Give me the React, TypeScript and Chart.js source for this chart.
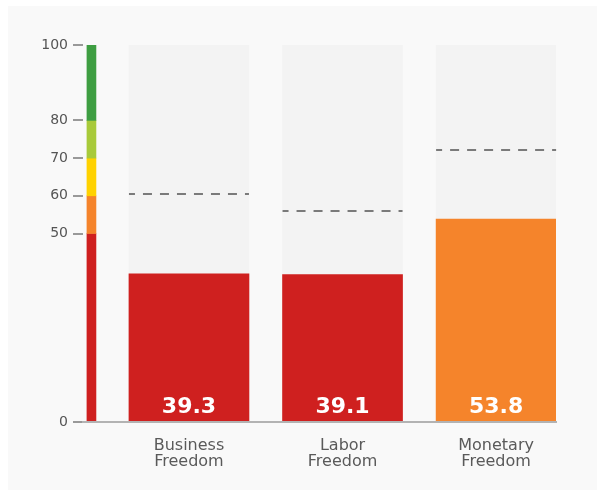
import React, { useEffect, useRef } from "react";
import { Chart, registerables } from "chart.js";

Chart.register(...registerables);

const CATEGORIES = ["Business Freedom", "Labor Freedom", "Monetary Freedom"];
const SCORES = [39.3, 39.1, 53.8];
const AVERAGES = [60.5, 55.9, 72.2];
const SCORE_COLORS = ["#cf201f", "#cf201f", "#f5842b"];
const SCORE_MAX = 100;
const BAND_LOWS = [0, 50, 60, 70, 80];
const BAND_HIGHS = [50, 60, 70, 80, 100];
const BAND_COLORS = ["#cf201f", "#f5842b", "#ffd200", "#a8ca3a", "#3e9e42"];
const Y_TICKS = [0, 50, 60, 70, 80, 100];

const X_MIN = 0.31;
const X_MAX = 3.39;
const BAND_X = 0.365;

const overlayPlugin = {
  id: "overlay",
  afterDatasetsDraw(chart: any) {
    const ctx = chart.ctx;
    const yScale = chart.scales.y;
    const meta = chart.getDatasetMeta(0);
    const y0 = yScale.getPixelForValue(0);
    ctx.save();
    // average dashed lines
    ctx.setLineDash([9, 8]);
    ctx.lineDashOffset = 3;
    ctx.strokeStyle = "#7a7a7a";
    ctx.lineWidth = 2;
    meta.data.forEach((bar: any, i: number) => {
      const y = Math.round(yScale.getPixelForValue(AVERAGES[i]));
      ctx.beginPath();
      ctx.moveTo(bar.x - bar.width / 2, y);
      ctx.lineTo(bar.x + bar.width / 2, y);
      ctx.stroke();
    });
    ctx.setLineDash([]);
    // value labels
    ctx.fillStyle = "#ffffff";
    ctx.font = "bold 22px 'DejaVu Sans'";
    ctx.textAlign = "center";
    ctx.textBaseline = "alphabetic";
    meta.data.forEach((bar: any, i: number) => {
      ctx.fillText(SCORES[i].toFixed(1), bar.x, y0 - 9);
    });
    ctx.restore();
  },
};

function ChartView() {
  const canvasRef = useRef<HTMLCanvasElement | null>(null);

  useEffect(() => {
    const canvas = canvasRef.current;
    if (!canvas) return;
    const chart = new Chart(canvas, {
      type: "bar",
      data: {
        datasets: [
          {
            label: "Score",
            data: SCORES.map((v, i) => ({ x: i + 1, y: v })),
            backgroundColor: SCORE_COLORS,
            barThickness: 120,
            grouped: false,
            order: 1,
          },
          {
            label: "Max",
            data: SCORES.map((_, i) => ({ x: i + 1, y: SCORE_MAX })),
            backgroundColor: "#f3f3f3",
            barThickness: 120,
            grouped: false,
            order: 3,
          },
          {
            label: "Scale",
            data: BAND_LOWS.map((lo, i) => ({ x: BAND_X, y: [lo, BAND_HIGHS[i]] })),
            backgroundColor: BAND_COLORS,
            barThickness: 9,
            grouped: false,
            order: 2,
          },
        ] as any,
      },
      options: {
        animation: false,
        responsive: false,
        events: [],
        layout: { padding: { top: 45, right: 42, bottom: 0, left: 0 } },
        plugins: { legend: { display: false }, tooltip: { enabled: false } },
        scales: {
          x: {
            type: "linear",
            min: X_MIN,
            max: X_MAX,
            offset: false,
            afterBuildTicks: (scale: any) => {
              scale.ticks = CATEGORIES.map((_, i) => ({ value: i + 1 }));
            },
            afterFit: (scale: any) => {
              scale.height = 70;
            },
            grid: { display: false, offset: false },
            border: { display: true, color: "#b3b3b3", width: 2, z: 1 },
            ticks: {
              autoSkip: false,
              maxRotation: 0,
              padding: 8,
              color: "#5a5a5a",
              font: { family: "'DejaVu Sans'", size: 16, lineHeight: 1 },
              callback: (value: any) => {
                const c = CATEGORIES[Math.round(value) - 1];
                return c ? c.split(" ") : "";
              },
            },
          },
          y: {
            type: "linear",
            min: 0,
            max: 100,
            afterBuildTicks: (scale: any) => {
              scale.ticks = Y_TICKS.map((v) => ({ value: v }));
            },
            afterFit: (scale: any) => {
              scale.width = 83;
            },
            grid: {
              display: true,
              drawOnChartArea: false,
              drawTicks: true,
              tickLength: 10,
              color: "#999999",
              lineWidth: 2,
            },
            border: { display: false },
            ticks: {
              padding: 5,
              color: "#555555",
              font: { family: "'DejaVu Sans'", size: 14 },
            },
          },
        },
      } as any,
      plugins: [overlayPlugin],
    });
    return () => chart.destroy();
  }, []);

  return (
    <canvas
      ref={canvasRef}
      width={598}
      height={492}
      style={{ position: "absolute", left: 0, top: 0, width: 598, height: 492 }}
    />
  );
}

export default function App() {
  return (
    <div
      style={{
        position: "absolute",
        left: 0,
        top: 0,
        width: 598,
        height: 492,
        background: "#ffffff",
        overflow: "hidden",
      }}
    >
      <div
        style={{
          position: "absolute",
          left: 8,
          top: 6,
          width: 589,
          height: 484,
          background: "#f9f9f9",
        }}
      />
      <ChartView />
    </div>
  );
}
